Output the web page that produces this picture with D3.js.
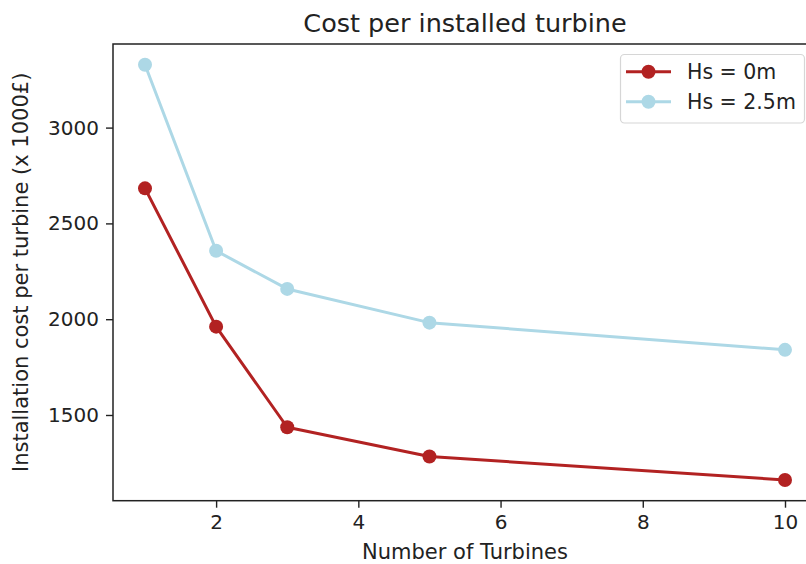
<!DOCTYPE html>
<html>
<head>
<meta charset="utf-8">
<script src="https://cdn.jsdelivr.net/npm/d3@7"></script>
<style>
  html, body { margin: 0; padding: 0; background: #fff; }
  svg { display: block; font-family: "DejaVu Sans", sans-serif; }
</style>
</head>
<body>
<svg id="chart" width="806" height="564"></svg>
<script>
// Number of turbines installed per campaign
const turbines = [1, 2, 3, 5, 10];
// Installation cost per turbine (x 1000£) for two sea states
const costHs0 = [2683, 1961, 1436, 1283, 1161];
const costHs25 = [3328, 2357, 2158, 1982, 1840];
const seriesNames = ["Hs = 0m", "Hs = 2.5m"];
const seriesColors = ["#b22222", "#add8e6"];
const xTicks = [2, 4, 6, 8, 10];
const yTicks = [1500, 2000, 2500, 3000];

const series = [
  { name: seriesNames[0], color: seriesColors[0], values: costHs0 },
  { name: seriesNames[1], color: seriesColors[1], values: costHs25 }
];

const svg = d3.select("#chart");
const plot = { left: 113, top: 44, right: 817, bottom: 500.7 };
const textColor = "#222";
const tickFs = 20;
const labelFs = 21;

// padded domains, 5% on each side
function padded(lo, hi) { const r = hi - lo; return [lo - 0.05 * r, hi + 0.05 * r]; }
const allY = costHs0.concat(costHs25);
const x = d3.scaleLinear().domain(padded(d3.min(turbines), d3.max(turbines))).range([plot.left, plot.right]);
const y = d3.scaleLinear().domain(padded(d3.min(allY), d3.max(allY))).range([plot.bottom, plot.top]);

// axes
const xAxis = svg.append("g").attr("transform", `translate(0,${plot.bottom})`)
  .call(d3.axisBottom(x).tickValues(xTicks).tickSize(7).tickPadding(7).tickFormat(d3.format("d")));
const yAxis = svg.append("g").attr("transform", `translate(${plot.left},0)`)
  .call(d3.axisLeft(y).tickValues(yTicks).tickSize(7).tickPadding(7).tickFormat(d3.format("d")));
[xAxis, yAxis].forEach(g => {
  g.select(".domain").remove();
  g.selectAll(".tick line").attr("stroke", textColor).attr("stroke-width", 1.4);
  g.selectAll(".tick text").attr("fill", textColor).style("font-size", tickFs + "px")
    .style("font-family", "DejaVu Sans, sans-serif");
});

// spines
svg.append("rect")
  .attr("x", plot.left).attr("y", plot.top)
  .attr("width", plot.right - plot.left).attr("height", plot.bottom - plot.top)
  .attr("fill", "none").attr("stroke", textColor).attr("stroke-width", 1.5);

// lines and markers
const line = d3.line().x((d, i) => x(turbines[i])).y(d => y(d));
series.forEach(s => {
  svg.append("path").datum(s.values)
    .attr("d", line).attr("fill", "none")
    .attr("stroke", s.color).attr("stroke-width", 3).attr("stroke-linejoin", "round");
  svg.append("g").selectAll("circle").data(s.values).join("circle")
    .attr("cx", (d, i) => x(turbines[i])).attr("cy", d => y(d))
    .attr("r", 7).attr("fill", s.color);
});

// title and axis labels
svg.append("text").attr("x", (plot.left + plot.right) / 2).attr("y", 32)
  .attr("text-anchor", "middle").attr("fill", textColor).style("font-size", "25.5px")
  .text("Cost per installed turbine");
svg.append("text").attr("x", (plot.left + plot.right) / 2).attr("y", 559)
  .attr("text-anchor", "middle").attr("fill", textColor).style("font-size", labelFs + "px")
  .text("Number of Turbines");
svg.append("text")
  .attr("transform", `translate(28,${(plot.top + plot.bottom) / 2}) rotate(-90)`)
  .attr("text-anchor", "middle").attr("fill", textColor).style("font-size", labelFs + "px")
  .text("Installation cost per turbine (x 1000£)");

// legend
const lg = svg.append("g");
lg.append("rect").attr("x", 620.5).attr("y", 54.5).attr("width", 184).attr("height", 68.5)
  .attr("rx", 4).attr("fill", "#fff").attr("fill-opacity", 0.8)
  .attr("stroke", "#d6d6d6").attr("stroke-width", 1.2);
series.forEach((s, i) => {
  const cy = 71.7 + i * 30;
  lg.append("line").attr("x1", 626).attr("x2", 671).attr("y1", cy).attr("y2", cy)
    .attr("stroke", s.color).attr("stroke-width", 3);
  lg.append("circle").attr("cx", 648.5).attr("cy", cy).attr("r", 7).attr("fill", s.color);
  lg.append("text").attr("x", 687).attr("y", cy + 7.5).attr("fill", textColor)
    .style("font-size", "20.5px").text(s.name);
});
</script>
</body>
</html>
